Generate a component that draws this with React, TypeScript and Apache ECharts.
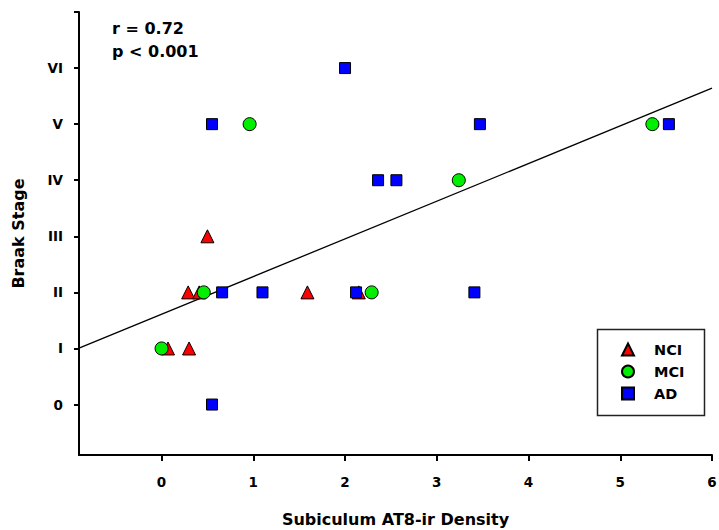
import React, { useEffect, useRef } from "react";
import * as echarts from "echarts";

// Braak stage (0 = stage 0, 1 = I, ... 6 = VI) against subiculum AT8-ir density
const nciData: [number, number][] = [
  [0.07, 1], [0.3, 1], [0.29, 2], [0.41, 2], [0.5, 3], [1.59, 2], [2.15, 2],
];
const mciData: [number, number][] = [
  [0.0, 1], [0.46, 2], [0.96, 5], [2.29, 2], [3.24, 4], [5.35, 5],
];
const adData: [number, number][] = [
  [0.55, 5], [0.55, 0], [0.66, 2], [1.1, 2], [2.0, 6], [2.12, 2],
  [2.36, 4], [2.56, 4], [3.47, 5], [3.41, 2], [5.53, 5],
];

const stageLabels = ["0", "I", "II", "III", "IV", "V", "VI"];
const xTicks = [0, 1, 2, 3, 4, 5, 6];
const yTicks = [0, 1, 2, 3, 4, 5, 6, 7];
const yLabelTicks = [0, 1, 2, 3, 4, 5, 6];

// least-squares fit
const fitIntercept = 1.61;
const fitSlope = 0.672;
const xMin = -0.9;
const xMax = 6;
const yMin = -0.9;
const yMax = 7;

const statLines = ["r = 0.72", "p < 0.001"];

const FONT = "'DejaVu Sans', 'Liberation Sans', Arial, sans-serif";

export default function App() {
  const ref = useRef<HTMLDivElement>(null);

  useEffect(() => {
    if (!ref.current) return;
    const chart = echarts.init(ref.current, undefined, { renderer: "svg" });

    const fitData = [
      [xMin, fitIntercept + fitSlope * xMin],
      [xMax, fitIntercept + fitSlope * xMax],
    ];

    const axisLine = { show: true, onZero: false, lineStyle: { color: "#000", width: 2 } };

    chart.setOption({
      animation: false,
      backgroundColor: "#fff",
      textStyle: { fontFamily: FONT },
      grid: {
        left: 79,
        right: 7,
        top: 12,
        bottom: 75,
        containLabel: false,
        outerBoundsMode: "none",
      },
      xAxis: {
        type: "value",
        min: xMin,
        max: xMax,
        name: "Subiculum AT8-ir Density",
        nameLocation: "middle",
        nameGap: 56,
        nameTextStyle: { fontFamily: FONT, fontWeight: "bold", fontSize: 16, color: "#000" },
        axisLine,
        axisTick: {
          show: true,
          inside: false,
          length: 6,
          customValues: xTicks,
          lineStyle: { color: "#000", width: 2 },
        },
        axisLabel: {
          customValues: xTicks,
          margin: 20,
          fontFamily: FONT,
          fontWeight: "bold",
          fontSize: 13.5,
          color: "#000",
        },
        splitLine: { show: false },
      },
      yAxis: {
        type: "value",
        min: yMin,
        max: yMax,
        name: "Braak Stage",
        nameLocation: "middle",
        nameGap: 53,
        nameTextStyle: { fontFamily: FONT, fontWeight: "bold", fontSize: 16, color: "#000" },
        axisLine,
        axisTick: {
          show: true,
          inside: false,
          length: 5,
          customValues: yTicks,
          lineStyle: { color: "#000", width: 2 },
        },
        axisLabel: {
          customValues: yLabelTicks,
          margin: 16,
          fontFamily: FONT,
          fontWeight: "bold",
          fontSize: 13.5,
          color: "#000",
          formatter: (v: number) => stageLabels[Math.round(v)] ?? "",
        },
        splitLine: { show: false },
      },
      legend: {
        orient: "vertical",
        left: 621,
        top: 342,
        itemWidth: 12,
        itemHeight: 12,
        itemGap: 7,
        padding: 0,
        textStyle: {
          fontFamily: FONT,
          fontWeight: "bold",
          fontSize: 14.5,
          lineHeight: 14,
          color: "#000",
          padding: [0, 0, 0, 15],
        },
        data: ["NCI", "MCI", "AD"],
      },
      graphic: [
        {
          type: "rect",
          left: 595,
          top: 327,
          shape: { width: 107, height: 86 },
          style: { fill: "none", stroke: "#222", lineWidth: 1.5 },
          z: 10,
        },
        {
          type: "text",
          left: 112,
          top: 17,
          style: {
            text: statLines.join("\n"),
            fontFamily: FONT,
            fontWeight: "bold",
            fontSize: 16,
            lineHeight: 23,
            fill: "#000",
          },
        },
      ],
      series: [
        {
          type: "line",
          name: "fit",
          data: fitData,
          showSymbol: false,
          symbol: "none",
          lineStyle: { color: "#000", width: 1.3 },
          z: 1,
          silent: true,
        },
        {
          type: "scatter",
          name: "NCI",
          data: nciData,
          symbol: "triangle",
          symbolSize: 13,
          itemStyle: { color: "#ff0000", borderColor: "#000", borderWidth: 1, opacity: 1 },
          z: 3,
        },
        {
          type: "scatter",
          name: "MCI",
          data: mciData,
          symbol: "circle",
          symbolSize: 13,
          itemStyle: { color: "#00ee00", borderColor: "#000", borderWidth: 1, opacity: 1 },
          z: 4,
        },
        {
          type: "scatter",
          name: "AD",
          data: adData,
          symbol: "rect",
          symbolSize: 11,
          itemStyle: { color: "#0000ff", borderColor: "#000", borderWidth: 1, opacity: 1 },
          z: 5,
        },
      ],
    });

    return () => chart.dispose();
  }, []);

  return <div ref={ref} style={{ width: 719, height: 530, position: "absolute", left: 0, top: 0 }} />;
}
